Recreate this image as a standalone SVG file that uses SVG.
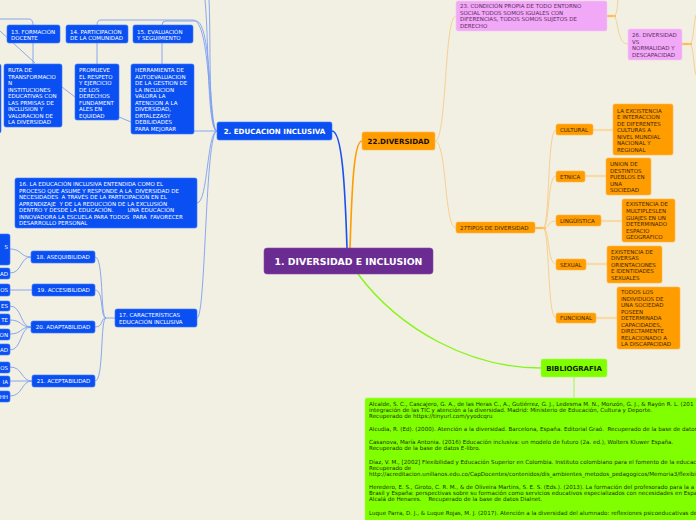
<svg xmlns="http://www.w3.org/2000/svg" width="696" height="520" viewBox="0 0 696 520">
<style>
text{font-family:"DejaVu Sans","Liberation Sans",sans-serif;font-size:5.5px}
.bn{fill:#0a4ff2;stroke:#3a78ff;stroke-width:0.6}
.bt{fill:#ffffff}
.on{fill:#ff9c00;stroke:#ffb84d;stroke-width:0.6}
.ot{fill:#3a2606}
.pn{fill:#f1a8f6;stroke:#f6c6fa;stroke-width:0.6}
.pt{fill:#5b2a61}
.gt{fill:#1d3300;font-size:5.6px}
.lb{fill:none;stroke:#7d9ff0;stroke-width:0.9}
.lo{fill:none;stroke:#f8cc86;stroke-width:0.9}
.lot{fill:none;stroke:#f9d9a6;stroke-width:2.2}
.loo{fill:none;stroke:#ffbe55;stroke-width:2.2}
</style>
<rect x="0" y="0" width="696" height="520" fill="#f2efe3"/>

<g id="connectors">
  <!-- main -->
  <path d="M347,248 C345,185 342,131 332,131" fill="none" stroke="#1a50f0" stroke-width="1.6"/>
  <path d="M350,248 C352,185 354,141 362,141" fill="none" stroke="#ff9c00" stroke-width="1.6"/>
  <path d="M358,274 C400,330 470,368 541,368" fill="none" stroke="#86f51a" stroke-width="1.4"/>
  <path d="M574,377 L574,399" fill="none" stroke="#9bf54a" stroke-width="0.9"/>
  <!-- blue side -->
  <path class="lb" d="M217,131 C207,131 209,40 205,0"/>
  <path class="lb" d="M217,131 C208,131 211,40 209,0"/>
  <path class="lb" d="M217,131 C209,131 212,21 196,21 L166,21 Q162,21 162,25"/>
  <path class="lb" d="M217,131 C208,131 211,20 193,20 L101,20 Q97,20 97,25"/>
  <path class="lb" d="M0,19 L29,19 Q33,19 33,25"/>
  <path class="lb" d="M33,43 L33,64"/>
  <path class="lb" d="M97,43 L97,64"/>
  <path class="lb" d="M162,43 L162,64"/>
  <path class="lb" d="M0,31 L35,63"/>
  <path class="lb" d="M62,87 L75,97"/>
  <path class="lb" d="M119,117 L131,122"/>
  <path class="lb" d="M194,131 L217,131"/>
  <path class="lb" d="M217,131 C207,131 208,203 197,203"/>
  <path class="lb" d="M217,131 C205,131 206,318 197,318"/>
  <path class="lb" d="M115,318 L105,318"/>
  <path class="lb" d="M106,318 C100,318 104,257 95,257"/>
  <path class="lb" d="M106,318 C100,318 104,290 95,290"/>
  <path class="lb" d="M106,318 C100,318 104,327 95,327"/>
  <path class="lb" d="M106,318 C100,318 104,381 95,381"/>
  <path class="lb" d="M31,257 C20,257 22,249 10,249"/>
  <path class="lb" d="M31,257 C20,257 22,273 10,273"/>
  <path class="lb" d="M32,290 L10,290"/>
  <path class="lb" d="M31,327 C20,327 22,306 10,306"/>
  <path class="lb" d="M31,327 C20,327 22,320 10,320"/>
  <path class="lb" d="M31,327 C20,327 22,334 10,334"/>
  <path class="lb" d="M31,327 C20,327 22,350 10,350"/>
  <path class="lb" d="M32,381 C21,381 23,367 10,367"/>
  <path class="lb" d="M32,381 L10,381"/>
  <path class="lb" d="M32,381 C21,381 23,396 10,396"/>
  <!-- orange side -->
  <path class="lo" d="M435,141 C447,141 444,16 456,16"/>
  <path class="lo" d="M435,141 C447,141 444,228 456,228"/>
  <path class="loo" d="M607,16 L616,16"/>
  <path class="lo" d="M613,16 C619,16 616,44 628,44"/>
  <path class="lo" d="M613,16 C618,16 617,5 618,0"/>
  <path class="loo" d="M682,44 L692,44"/>
  <path class="lo" d="M689,44 C694,44 693,25 696,15"/>
  <path class="lo" d="M689,44 C694,44 693,65 696,75"/>
  <path class="loo" d="M535,228 L546,228"/>
  <path class="lo" d="M543,228 C550,228 547,130 556,130"/>
  <path class="lo" d="M543,228 C550,228 547,176 556,176"/>
  <path class="lo" d="M543,228 C550,228 547,221 556,221"/>
  <path class="lo" d="M543,228 C550,228 547,264 556,264"/>
  <path class="lo" d="M543,228 C550,228 547,318 556,318"/>
  <path class="lot" d="M593,130 L613,130"/>
  <path class="lot" d="M585,176 L606,176"/>
  <path class="lot" d="M601,221 L622,221"/>
  <path class="lot" d="M586,264 L607,264"/>
  <path class="lot" d="M596,318 L617,318"/>
</g>

<g id="n1">
  <rect x="264" y="248" width="169" height="26" rx="3" fill="#6a2c91" stroke="#8a4cb1" stroke-width="0.6"/>
  <text x="348.5" y="264.5" text-anchor="middle" fill="#ffffff" font-weight="bold" style="font-size:9.3px">1. DIVERSIDAD E INCLUSION</text>
</g>

<g id="n2">
  <rect class="bn" x="217" y="122" width="115" height="18" rx="2"/>
  <text class="bt" x="274.5" y="133.6" text-anchor="middle" font-weight="bold" style="font-size:7.1px">2. EDUCACION INCLUSIVA</text>
</g>

<g id="nleft">
  <rect class="bn" x="-10" y="64" width="11" height="69" rx="2"/>
</g>

<g id="n13">
  <rect class="bn" x="7" y="25" width="53" height="18" rx="2"/>
  <text class="bt" x="11" y="33.5">13. FORMACIÓN</text>
  <text class="bt" x="11" y="40">DOCENTE</text>
</g>
<g id="n14">
  <rect class="bn" x="66" y="25" width="62" height="18" rx="2"/>
  <text class="bt" x="70" y="33.5">14. PARTICIPACIÓN</text>
  <text class="bt" x="70" y="40">DE LA COMUNIDAD</text>
</g>
<g id="n15">
  <rect class="bn" x="133" y="25" width="60" height="18" rx="2"/>
  <text class="bt" x="137" y="33.5">15. EVALUACIÓN</text>
  <text class="bt" x="137" y="40">Y SEGUIMIENTO</text>
</g>

<g id="nruta">
  <rect class="bn" x="4" y="64" width="58" height="63" rx="2"/>
  <text class="bt" x="8" y="72">RUTA DE</text>
  <text class="bt" x="8" y="78.5">TRANSFORMACIO</text>
  <text class="bt" x="8" y="85">N</text>
  <text class="bt" x="8" y="91.5">INSTITUCIONES</text>
  <text class="bt" x="8" y="98">EDUCATIVAS CON</text>
  <text class="bt" x="8" y="104.5">LAS PRMISAS DE</text>
  <text class="bt" x="8" y="111">INCLUSION Y</text>
  <text class="bt" x="8" y="117.5">VALORACION DE</text>
  <text class="bt" x="8" y="124">LA DIVERSIDAD</text>
</g>
<g id="npromueve">
  <rect class="bn" x="75" y="64" width="44" height="56" rx="2"/>
  <text class="bt" x="79" y="72">PROMUEVE</text>
  <text class="bt" x="79" y="78.5">EL RESPETO</text>
  <text class="bt" x="79" y="85">Y EJERCICIO</text>
  <text class="bt" x="79" y="91.5">DE LOS</text>
  <text class="bt" x="79" y="98">DERECHOS</text>
  <text class="bt" x="79" y="104.5">FUNDAMENT</text>
  <text class="bt" x="79" y="111">ALES EN</text>
  <text class="bt" x="79" y="117.5">EQUIDAD</text>
</g>
<g id="nherramienta">
  <rect class="bn" x="131" y="64" width="63" height="70" rx="2"/>
  <text class="bt" x="135" y="72">HERRAMIENTA DE</text>
  <text class="bt" x="135" y="78.5">AUTOEVALUACION</text>
  <text class="bt" x="135" y="85">DE LA GESTION DE</text>
  <text class="bt" x="135" y="91.5">LA INCLUCION</text>
  <text class="bt" x="135" y="98">VALORA LA</text>
  <text class="bt" x="135" y="104.5">ATENCION A LA</text>
  <text class="bt" x="135" y="111">DIVERSIDAD,</text>
  <text class="bt" x="135" y="117.5">DRTALEZASY</text>
  <text class="bt" x="135" y="124">DEBILIDADES</text>
  <text class="bt" x="135" y="130.5">PARA MEJORAR</text>
</g>

<g id="n16">
  <rect class="bn" x="15" y="178" width="182" height="50" rx="2"/>
  <text class="bt" x="19" y="186">16. LA EDUCACIÓN INCLUSIVA ENTENDIDA COMO EL</text>
  <text class="bt" x="19" y="192.5" xml:space="preserve">PROCESO QUE ASUME Y RESPONDE A LA  DIVERSIDAD DE</text>
  <text class="bt" x="19" y="199" xml:space="preserve">NECESIDADES  A TRAVÉS DE LA PARTICIPACIÓN EN EL</text>
  <text class="bt" x="19" y="205.5" xml:space="preserve">APRENDIZAJE  Y DE LA REDUCCIÓN DE LA EXCLUSIÓN</text>
  <text class="bt" x="19" y="212" xml:space="preserve">DENTRO Y DESDE LA EDUCACIÓN.        UNA EDUCACIÓN</text>
  <text class="bt" x="19" y="218.5" xml:space="preserve">INNOVADORA LA ESCUELA PARA TODOS  PARA  FAVORECER</text>
  <text class="bt" x="19" y="225">DESARROLLO PERSONAL</text>
</g>

<g id="n17">
  <rect class="bn" x="115" y="309" width="82" height="18" rx="2"/>
  <text class="bt" x="119" y="317">17. CARACTERÍSTICAS</text>
  <text class="bt" x="119" y="323.5">EDUCACIÓN INCLUSIVA</text>
</g>
<g id="n18">
  <rect class="bn" x="31" y="251" width="64" height="12" rx="2"/>
  <text class="bt" x="63" y="259" text-anchor="middle">18. ASEQUIBILIDAD</text>
</g>
<g id="n19">
  <rect class="bn" x="32" y="284" width="63" height="12" rx="2"/>
  <text class="bt" x="63.5" y="292" text-anchor="middle">19. ACCESIBILIDAD</text>
</g>
<g id="n20">
  <rect class="bn" x="31" y="321" width="64" height="12" rx="2"/>
  <text class="bt" x="63" y="329" text-anchor="middle">20. ADAPTABILIDAD</text>
</g>
<g id="n21">
  <rect class="bn" x="32" y="375" width="63" height="12" rx="2"/>
  <text class="bt" x="63.5" y="383" text-anchor="middle">21. ACEPTABILIDAD</text>
</g>

<g id="n18a"><rect class="bn" x="-30" y="234" width="40" height="31" rx="2"/><text class="bt" x="8" y="248.8" text-anchor="end">S</text></g>
<g id="n18b"><rect class="bn" x="-30" y="268" width="40" height="11" rx="2"/><text class="bt" x="8" y="275.5" text-anchor="end">AD</text></g>
<g id="n19a"><rect class="bn" x="-30" y="284" width="40" height="12" rx="2"/><text class="bt" x="8" y="292" text-anchor="end">OS</text></g>
<g id="n20a"><rect class="bn" x="-30" y="301" width="40" height="10" rx="2"/><text class="bt" x="8" y="308" text-anchor="end">ES</text></g>
<g id="n20b"><rect class="bn" x="-30" y="314" width="40" height="11" rx="2"/><text class="bt" x="8" y="321.5" text-anchor="end">TE</text></g>
<g id="n20c"><rect class="bn" x="-30" y="329" width="40" height="11" rx="2"/><text class="bt" x="8" y="336.5" text-anchor="end">ON</text></g>
<g id="n20d"><rect class="bn" x="-30" y="344" width="40" height="11" rx="2"/><text class="bt" x="8" y="351.5" text-anchor="end">AD</text></g>
<g id="n21a"><rect class="bn" x="-30" y="362" width="40" height="11" rx="2"/><text class="bt" x="8" y="369.5" text-anchor="end">OS</text></g>
<g id="n21b"><rect class="bn" x="-30" y="376" width="40" height="11" rx="2"/><text class="bt" x="8" y="383.5" text-anchor="end">IA</text></g>
<g id="n21c"><rect class="bn" x="-30" y="391" width="40" height="11" rx="2"/><text class="bt" x="8" y="398.5" text-anchor="end">HH</text></g>

<g id="n22">
  <rect class="on" x="362" y="132" width="73" height="18" rx="2"/>
  <text x="398.5" y="143.6" text-anchor="middle" fill="#1a1000" font-weight="bold" style="font-size:7.1px">22.DIVERSIDAD</text>
</g>

<g id="n23">
  <rect class="pn" x="456" y="1" width="151" height="30" rx="2"/>
  <text class="pt" x="460" y="8">23. CONDICIÓN PROPIA DE TODO ENTORNO</text>
  <text class="pt" x="460" y="14.7">SOCIAL TODOS SOMOS IGUALES CON</text>
  <text class="pt" x="460" y="21.2">DIFERENCIAS, TODOS SOMOS SUJETOS DE</text>
  <text class="pt" x="460" y="28">DERECHO</text>
</g>
<g id="n26">
  <rect class="pn" x="628" y="29" width="54" height="31" rx="2"/>
  <text class="pt" x="632" y="37">26. DIVERSIDAD</text>
  <text class="pt" x="632" y="43.7">VS</text>
  <text class="pt" x="632" y="50.2">NORMALIDAD Y</text>
  <text class="pt" x="632" y="57">DESCAPACIDAD</text>
</g>

<g id="n27">
  <rect class="on" x="456" y="222" width="79" height="11" rx="2"/>
  <text class="ot" x="460" y="229.8">27TIPOS DE DIVERSIDAD</text>
</g>

<g id="ncultural">
  <rect class="on" x="556" y="124" width="37" height="11" rx="2"/>
  <text class="ot" x="560" y="131.8">CULTURAL</text>
</g>
<g id="ncultural-d">
  <rect class="on" x="613" y="104" width="60" height="51" rx="2"/>
  <text class="ot" x="617" y="113">LA EXCISTENCIA</text>
  <text class="ot" x="617" y="119">E INTERACCION</text>
  <text class="ot" x="617" y="126">DE DIFERENTES</text>
  <text class="ot" x="617" y="132">CULTURAS A</text>
  <text class="ot" x="617" y="139">NIVEL MUNDIAL</text>
  <text class="ot" x="617" y="145">NACIONAL Y</text>
  <text class="ot" x="617" y="152">REGIONAL</text>
</g>
<g id="netnica">
  <rect class="on" x="556" y="171" width="29" height="11" rx="2"/>
  <text class="ot" x="560" y="178.8">ETNICA</text>
</g>
<g id="netnica-d">
  <rect class="on" x="606" y="158" width="45" height="37" rx="2"/>
  <text class="ot" x="610" y="166">UNION DE</text>
  <text class="ot" x="610" y="173">DESTINTOS</text>
  <text class="ot" x="610" y="179">PUEBLOS EN</text>
  <text class="ot" x="610" y="186">UNA</text>
  <text class="ot" x="610" y="192">SOCIEDAD</text>
</g>
<g id="nling">
  <rect class="on" x="556" y="215" width="45" height="11" rx="2"/>
  <text class="ot" x="560" y="222.8">LINGÜÍSTICA</text>
</g>
<g id="nling-d">
  <rect class="on" x="622" y="199" width="53" height="43" rx="2"/>
  <text class="ot" x="626" y="206">EXISTENCIA DE</text>
  <text class="ot" x="626" y="213">MULTIPLESLEN</text>
  <text class="ot" x="626" y="220">GUAJES EN UN</text>
  <text class="ot" x="626" y="226">DETERMINADO</text>
  <text class="ot" x="626" y="233">ESPACIO</text>
  <text class="ot" x="626" y="239">GEOGRAFICO</text>
</g>
<g id="nsexual">
  <rect class="on" x="556" y="259" width="30" height="11" rx="2"/>
  <text class="ot" x="560" y="266.8">SEXUAL</text>
</g>
<g id="nsexual-d">
  <rect class="on" x="607" y="246" width="55" height="37" rx="2"/>
  <text class="ot" x="611" y="254">EXISTENCIA DE</text>
  <text class="ot" x="611" y="260">DIVERSAS</text>
  <text class="ot" x="611" y="267">ORIENTACIONES</text>
  <text class="ot" x="611" y="273">E IDENTIDADES</text>
  <text class="ot" x="611" y="280">SEXUALES</text>
</g>
<g id="nfuncional">
  <rect class="on" x="556" y="313" width="40" height="10" rx="2"/>
  <text class="ot" x="560" y="320.3">FUNCIONAL</text>
</g>
<g id="nfuncional-d">
  <rect class="on" x="617" y="287" width="63" height="62" rx="2"/>
  <text class="ot" x="621" y="294">TODOS LOS</text>
  <text class="ot" x="621" y="301">INDIVIDUOS DE</text>
  <text class="ot" x="621" y="307">UNA SOCIEDAD</text>
  <text class="ot" x="621" y="314">POSEEN</text>
  <text class="ot" x="621" y="320">DETERMINADA</text>
  <text class="ot" x="621" y="327">CAPACIDADES,</text>
  <text class="ot" x="621" y="333">DIRECTAMENTE</text>
  <text class="ot" x="621" y="340">RELACIONADO A</text>
  <text class="ot" x="621" y="346">LA DISCAPACIDAD</text>
</g>

<g id="nbiblio">
  <rect x="541" y="359" width="66" height="18" rx="2" fill="#80ff00" stroke="#a6ff4d" stroke-width="0.6"/>
  <text x="574" y="370.6" text-anchor="middle" fill="#111a00" font-weight="bold" style="font-size:7px">BIBLIOGRAFIA</text>
</g>

<g id="nbiblio-d">
  <rect x="365" y="398" width="340" height="130" rx="2" fill="#80ff00" stroke="#a6ff4d" stroke-width="0.6"/>
  <text class="gt" x="369" y="406">Alcalde, S. C., Cascajero, G. A., de las Heras C., A., Gutiérrez, G. J., Ledesma M. N., Monzón, G. J., &amp; Rayón R. L. (201</text>
  <text class="gt" x="369" y="412">integración de las TIC y atención a la diversidad. Madrid: Ministerio de Educación, Cultura y Deporte.</text>
  <text class="gt" x="369" y="418">Recuperado de https://tinyurl.com/yyodcqru</text>
  <text class="gt" x="369" y="431" xml:space="preserve">Alcudia, R. (Ed). (2000). Atención a la diversidad. Barcelona, España. Editorial Graó.  Recuperado de la base de datos</text>
  <text class="gt" x="369" y="444">Casanova, María Antonia. (2016) Educación inclusiva: un modelo de futuro (2a. ed.), Wolters Kluwer España.</text>
  <text class="gt" x="369" y="450">Recuperado de la base de datos E-libro.</text>
  <text class="gt" x="369" y="464">Díaz, V. M., [2002] Flexibilidad y Educación Superior en Colombia. Instituto colombiano para el fomento de la educacio</text>
  <text class="gt" x="369" y="470">Recuperado de</text>
  <text class="gt" x="369" y="476">http://acreditacion.unillanos.edu.co/CapDocentes/contenidos/dis_ambientes_metodos_pedagogicos/Memoria3/flexibi</text>
  <text class="gt" x="369" y="489">Heredero, E. S., Giroto, C. R. M., &amp; de Oliveira Martins, S. E. S. (Eds.). (2013). La formación del profesorado para la a</text>
  <text class="gt" x="369" y="495">Brasil y España: perspectivas sobre su formación como servicios educativos especializados con necesidades en Españ</text>
  <text class="gt" x="369" y="501" xml:space="preserve">Alcalá de Henares.    Recuperado de la base de datos Dialnet.</text>
  <text class="gt" x="369" y="515">Luque Parra, D. J., &amp; Luque Rojas, M. J. (2017). Atención a la diversidad del alumnado: reflexiones psicoeducativas de</text>
</g>
</svg>
